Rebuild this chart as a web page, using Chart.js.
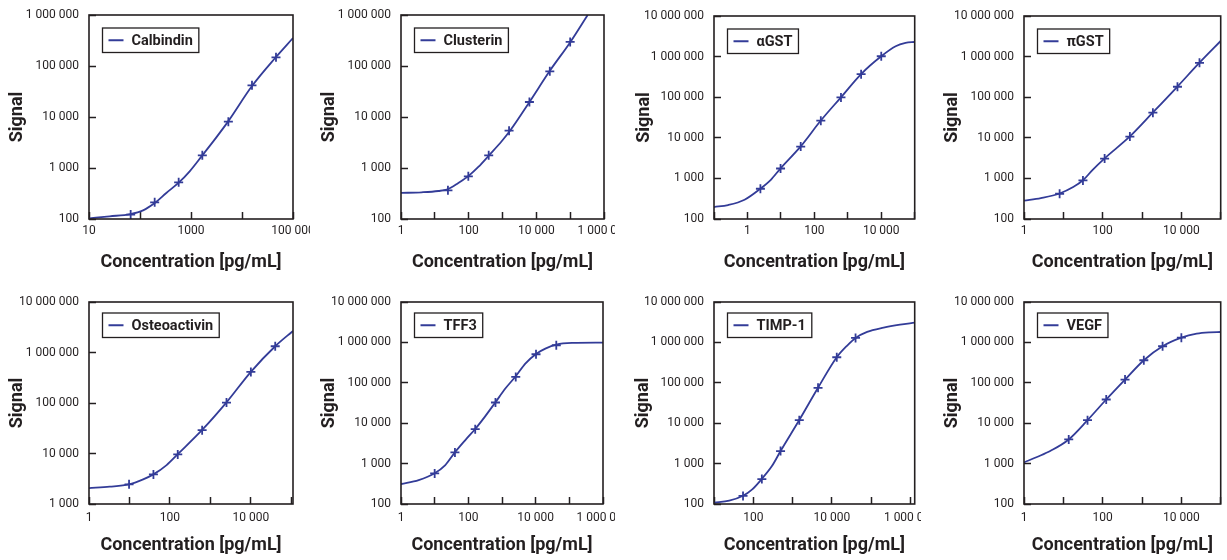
<!DOCTYPE html>
<html><head><meta charset="utf-8">
<script src="https://cdn.jsdelivr.net/npm/chart.js@4.4.1/dist/chart.umd.min.js"></script>
<style>
html,body{margin:0;padding:0;background:#fff;width:1227px;height:560px;overflow:hidden;position:relative}
canvas{position:absolute}
</style></head><body>
<script>
// ---------- DATA ----------
const calbindinConc   = [65.6, 194, 573, 1667, 5400, 15700, 46400];
const calbindinSignal = [122, 212, 524, 1771, 8100, 41800, 148000];
const calbindinFitX   = [10, 25.4, 64.6, 115, 194, 328, 573, 942, 1667, 3140, 5400, 15700, 46400, 100000];
const calbindinFitY   = [103, 113, 125, 148, 206, 324, 515, 861, 1770, 3990, 8300, 40500, 150000, 354000];

const clusterinConc   = [24.4, 97.7, 391, 1563, 6250, 25000, 100000];
const clusterinSignal = [365, 687, 1772, 5400, 19700, 78600, 296000];
const clusterinFitX   = [1, 4.08, 12.7, 23.9, 49.5, 102, 193, 408, 945, 1705, 6350, 24800, 103000, 329000];
const clusterinFitY   = [324, 334, 354, 382, 508, 708, 1047, 1800, 3340, 5480, 20000, 79800, 300000, 1000000];

const agstConc   = [2.44, 9.77, 39.1, 156, 625, 2500, 10000];
const agstSignal = [556, 1754, 6080, 26400, 98900, 370000, 1020000];
const agstFitX   = [0.1, 0.264, 0.82, 2.44, 5.0, 9.77, 39.1, 156, 625, 2500, 10000, 27000, 53300, 100000];
const agstFitY   = [197, 221, 299, 560, 925, 1770, 6150, 26600, 99500, 372000, 1020000, 1800000, 2170000, 2300000];

const pgstConc   = [8.04, 31.5, 112, 491, 1888, 7960, 28900];
const pgstSignal = [419, 890, 3085, 10700, 41600, 181000, 702000];
const pgstFitX   = [1, 2.68, 8.04, 17.8, 31.5, 55.6, 112, 491, 1888, 7960, 28900, 100000];
const pgstFitY   = [282, 328, 425, 611, 900, 1626, 3120, 10800, 42000, 183000, 710000, 2430000];

const osteoConc   = [9.77, 39.1, 156, 625, 2500, 10000, 40000];
const osteoSignal = [2450, 3860, 9590, 29000, 102000, 413000, 1330000];
const osteoFitX   = [1, 3.25, 9.77, 21.8, 39.1, 82.7, 156, 625, 2500, 10000, 40000, 110000];
const osteoFitY   = [2070, 2200, 2450, 3080, 3860, 5900, 9700, 29300, 103000, 415000, 1330000, 2670000];

const tffConc   = [10, 40, 160, 640, 2560, 10240, 40960];
const tffSignal = [572, 1891, 7130, 32500, 140000, 509000, 849000];
const tffFitX   = [1, 3.35, 10, 20.7, 40, 81.5, 160, 320, 640, 1256, 2560, 4930, 10240, 19400, 40960, 120000, 1000000];
const tffFitY   = [312, 392, 580, 920, 1900, 3820, 7200, 15000, 33000, 72100, 145000, 299000, 519000, 703000, 883000, 970000, 989000];

const timpConc   = [54.8, 165, 494, 1480, 4440, 13300, 40000];
const timpSignal = [158, 415, 2040, 11900, 75000, 429000, 1290000];
const timpFitX   = [10, 24.4, 54.8, 94, 165, 298, 494, 1480, 4440, 13300, 24900, 40000, 78900, 207000, 541000, 1280000];
const timpFitY   = [108, 121, 160, 230, 420, 869, 2050, 12000, 75500, 430000, 849000, 1290000, 1820000, 2320000, 2750000, 3080000];

const vegfConc   = [13.7, 41.2, 123, 370, 1111, 3333, 10000];
const vegfSignal = [3960, 11900, 38600, 120000, 362000, 802000, 1310000];
const vegfFitX   = [1, 2.22, 4.75, 13.7, 41.2, 123, 370, 1111, 3333, 10000, 24500, 52400, 100000];
const vegfFitY   = [1070, 1480, 2080, 3960, 11900, 38600, 120000, 362000, 802000, 1310000, 1650000, 1780000, 1810000];

// tick values and labelled ticks
const xTicks10to1e5   = [10, 100, 1000, 10000, 100000];
const xLabels10to1e5  = [10, 1000, 100000];
const xTicks1to1e6    = [1, 10, 100, 1000, 10000, 100000, 1000000];
const xLabels1to1e6   = [1, 100, 10000, 1000000];
const xTicksTenth     = [0.1, 1, 10, 100, 1000, 10000, 100000];
const xLabelsTenth    = [1, 100, 10000];
const xTicks1to1e5    = [1, 10, 100, 1000, 10000, 100000];
const xLabels1to1e5   = [1, 100, 10000];
const xTicks10to1e6   = [10, 100, 1000, 10000, 100000, 1000000];
const xLabels10to1e6  = [100, 10000, 1000000];
const yTicks100to1e6  = [100, 1000, 10000, 100000, 1000000];
const yTicks100to1e7  = [100, 1000, 10000, 100000, 1000000, 10000000];
const yTicks1e3to1e7  = [1000, 10000, 100000, 1000000, 10000000];

// ---------- LAYOUT / STYLE ----------
const BLUE = '#333c98';
const INK = '#231f20';
const FONT = 'Roboto';
const colLeft = [0, 310, 615, 921];
const colW = [310, 305, 306, 306];
const TITLE_SIZE = 18;
const TITLE_HALF = TITLE_SIZE * 1.2 / 2;

function fmtY(v){ return String(v).replace(/\B(?=(\d{3})+(?!\d))/g, ' '); }
function fmtX(v){ return v < 10000 ? String(v) : fmtY(v); }

const panels = [
 {name:'Calbindin', col:0,row:0, conc:calbindinConc, sig:calbindinSignal, fx:calbindinFitX, fy:calbindinFitY,
  xMin:10, xMax:100000, xT:xTicks10to1e5, xL:xLabels10to1e5, yMin:100, yMax:1e6, yT:yTicks100to1e6,
  area:{l:89,r:293,t:15,b:219}, sigX:17},
 {name:'Clusterin', col:1,row:0, conc:clusterinConc, sig:clusterinSignal, fx:clusterinFitX, fy:clusterinFitY,
  xMin:1, xMax:1e6, xT:xTicks1to1e6, xL:xLabels1to1e6, yMin:100, yMax:1e6, yT:yTicks100to1e6,
  area:{l:401,r:604,t:15,b:219}, sigX:19},
 {name:'\u03b1GST', col:2,row:0, conc:agstConc, sig:agstSignal, fx:agstFitX, fy:agstFitY,
  xMin:0.1, xMax:1e5, xT:xTicksTenth, xL:xLabelsTenth, yMin:100, yMax:1e7, yT:yTicks100to1e7,
  area:{l:714,r:918,t:16,b:219}, sigX:29},
 {name:'\u03c0GST', col:3,row:0, conc:pgstConc, sig:pgstSignal, fx:pgstFitX, fy:pgstFitY,
  xMin:1, xMax:1e5, xT:xTicks1to1e5, xL:xLabels1to1e5, yMin:100, yMax:1e7, yT:yTicks100to1e7,
  area:{l:1024,r:1226,t:16,b:219}, sigX:31},
 {name:'Osteoactivin', col:0,row:1, conc:osteoConc, sig:osteoSignal, fx:osteoFitX, fy:osteoFitY,
  xMin:1, xMax:110000, xT:xTicks1to1e5, xL:xLabels1to1e5, yMin:1000, yMax:1e7, yT:yTicks1e3to1e7,
  area:{l:89,r:293,t:302,b:504}, sigX:17},
 {name:'TFF3', col:1,row:1, conc:tffConc, sig:tffSignal, fx:tffFitX, fy:tffFitY,
  xMin:1, xMax:1e6, xT:xTicks1to1e6, xL:xLabels1to1e6, yMin:100, yMax:1e7, yT:yTicks100to1e7,
  area:{l:401,r:603,t:302,b:504}, sigX:19},
 {name:'TIMP-1', col:2,row:1, conc:timpConc, sig:timpSignal, fx:timpFitX, fy:timpFitY,
  xMin:10, xMax:1280000, xT:xTicks10to1e6, xL:xLabels10to1e6, yMin:100, yMax:1e7, yT:yTicks100to1e7,
  area:{l:714,r:917,t:302,b:504}, sigX:28},
 {name:'VEGF', col:3,row:1, conc:vegfConc, sig:vegfSignal, fx:vegfFitX, fy:vegfFitY,
  xMin:1, xMax:1e5, xT:xTicks1to1e5, xL:xLabels1to1e5, yMin:100, yMax:1e7, yT:yTicks100to1e7,
  area:{l:1024,r:1226,t:302,b:504}, sigX:31}
];

const framePlugin = {
  id:'frame',
  afterDraw(chart){
    const {ctx, chartArea:ca} = chart;
    ctx.save();
    ctx.strokeStyle = INK; ctx.lineWidth = 1.6;
    ctx.strokeRect(ca.left, ca.top, ca.right-ca.left, ca.bottom-ca.top);
    ctx.restore();
  }
};
const legendPlugin = {
  id:'boxLegend',
  afterDraw(chart, args, opts){
    const {ctx, chartArea:ca} = chart;
    ctx.save();
    ctx.font = `bold 14.5px ${FONT}`;
    const tw = ctx.measureText(opts.text).width;
    const x = ca.left + 13.5, y = ca.top + opts.dy, h = 24.5, w = 29 + tw + 6;
    ctx.fillStyle = '#fff'; ctx.fillRect(x, y, w, h);
    ctx.strokeStyle = INK; ctx.lineWidth = 1.3; ctx.strokeRect(x, y, w, h);
    ctx.strokeStyle = BLUE; ctx.lineWidth = 2;
    ctx.beginPath(); ctx.moveTo(x+6, y+h/2); ctx.lineTo(x+21, y+h/2); ctx.stroke();
    ctx.fillStyle = INK; ctx.textBaseline = 'middle'; ctx.textAlign = 'left';
    ctx.fillText(opts.text, x+29, y+h/2+1);
    ctx.restore();
  }
};

panels.forEach(p => {
  const left = colLeft[p.col], w = colW[p.col], top = p.row*280, h = 280;
  const cv = document.createElement('canvas');
  cv.width = w; cv.height = h;
  cv.style.left = left+'px'; cv.style.top = top+'px';
  cv.style.width = w+'px'; cv.style.height = h+'px';
  document.body.appendChild(cv);
  const yW = p.area.l - left;
  const xH = top + h - p.area.b;
  const padTop = p.area.t - top;
  const padRight = left + w - p.area.r;
  new Chart(cv, {
    type:'scatter',
    data:{datasets:[
      {label:p.name, data:p.fx.map((x,i)=>({x:x, y:p.fy[i]})), showLine:true, borderColor:BLUE, backgroundColor:BLUE,
       borderWidth:1.8, pointRadius:0, cubicInterpolationMode:'monotone', fill:false},
      {label:p.name+' data', data:p.conc.map((x,i)=>({x:x, y:p.sig[i]})), showLine:false, pointStyle:'cross',
       pointRadius:4.5, pointBorderWidth:1.8, borderColor:BLUE, backgroundColor:BLUE}
    ]},
    options:{
      responsive:false, animation:false, devicePixelRatio:1,
      layout:{padding:{top:padTop, right:padRight, left:0, bottom:0}},
      plugins:{legend:{display:false}, tooltip:{enabled:false}, boxLegend:{text:p.name, dy: p.row ? 11 : 13}},
      scales:{
        x:{type:'logarithmic', position:'bottom', min:p.xMin, max:p.xMax,
          afterBuildTicks: s => { s.ticks = p.xT.map(v => ({value:v})); },
          afterFit: s => { s.height = xH; s.paddingLeft = 0; s.paddingRight = 0; },
          ticks:{autoSkip:false, maxRotation:0, minRotation:0, padding: p.row ? 13.5 : 11.5, color:INK,
            font:{family:FONT, size:12}, callback: v => p.xL.includes(v) ? fmtX(v) : ''},
          grid:{display:true, drawOnChartArea:false, drawTicks:true, tickLength:-7, tickColor:INK, tickWidth:1.5, color:INK},
          border:{display:false},
          title:{display:true, text:'Concentration [pg/mL]', color:INK,
            font:{family:FONT, size:TITLE_SIZE, weight:'bold'}, padding:{top:0, bottom: (p.row ? 15 : 18) - TITLE_HALF}}
        },
        y:{type:'logarithmic', position:'left', min:p.yMin, max:p.yMax,
          afterBuildTicks: s => { s.ticks = p.yT.map(v => ({value:v})); },
          afterFit: s => { s.width = yW; s.paddingTop = 0; s.paddingBottom = 0; },
          ticks:{autoSkip:false, padding:17, color:INK, font:{family:FONT, size:12}, callback: v => fmtY(v)},
          grid:{display:true, drawOnChartArea:false, drawTicks:true, tickLength:-7, tickColor:INK, tickWidth:1.5, color:INK},
          border:{display:false},
          title:{display:true, text:'Signal', color:INK,
            font:{family:FONT, size:TITLE_SIZE, weight:'bold'}, padding:{top: p.sigX - TITLE_HALF, bottom:0}}
        }
      }
    },
    plugins:[framePlugin, legendPlugin]
  });
});
</script>
</body></html>
